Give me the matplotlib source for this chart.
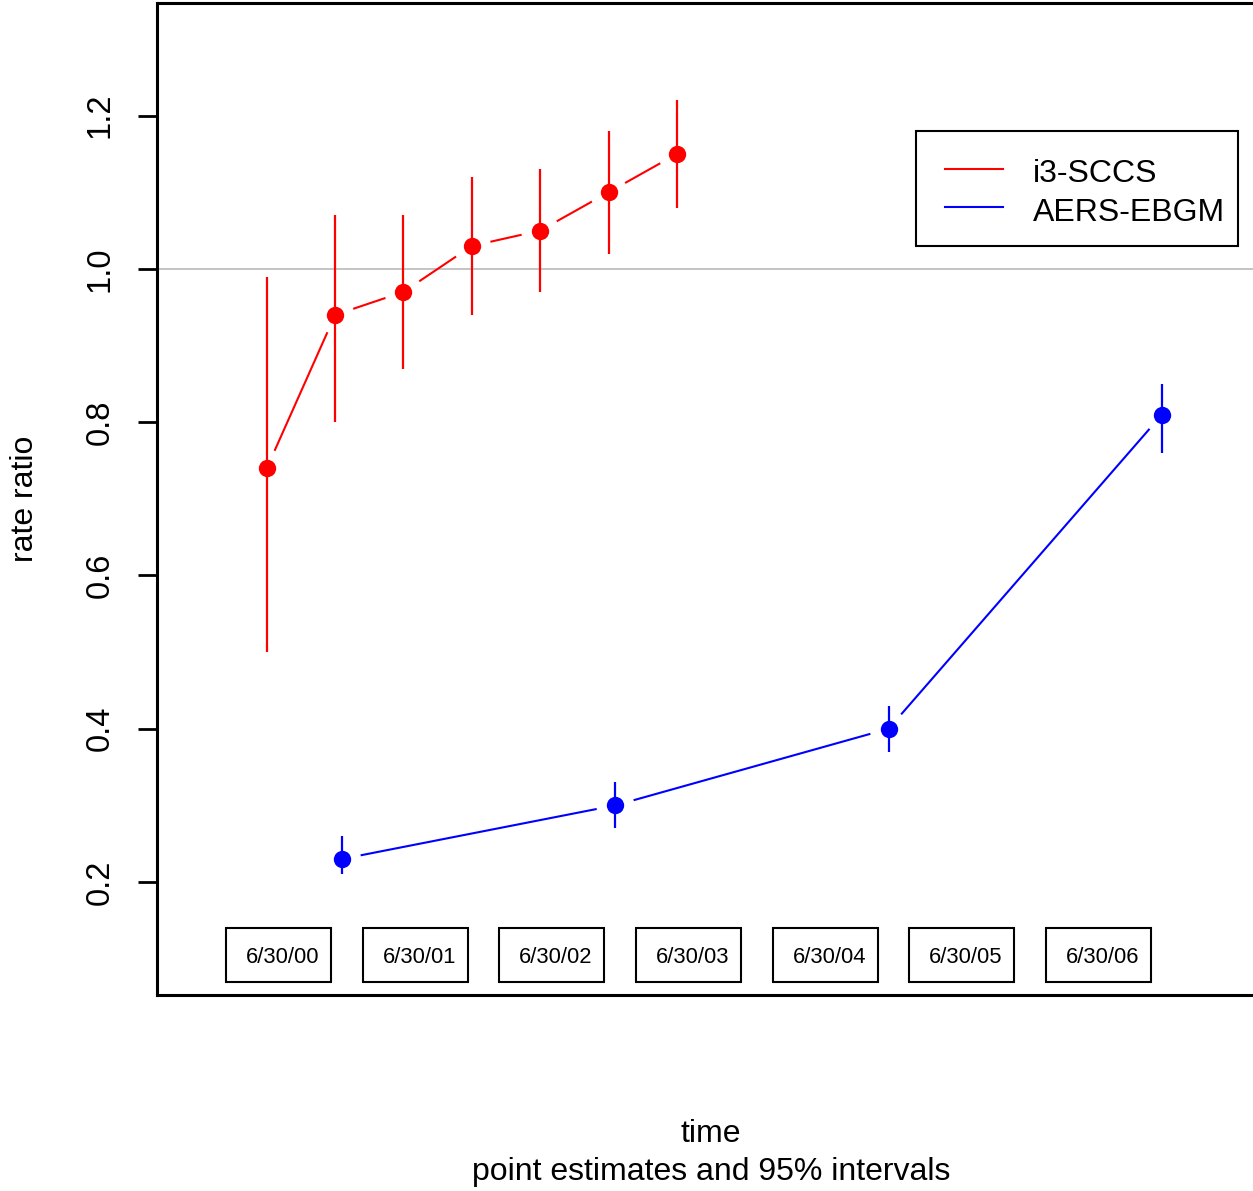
import matplotlib
matplotlib.use("Agg")
import matplotlib.pyplot as plt
from matplotlib.lines import Line2D
from matplotlib.patches import Rectangle
import numpy as np

plt.rcParams['font.family'] = ['Liberation Sans', 'DejaVu Sans']

# time in years since 1/1/2000
sccs_x = [0.45, 0.95, 1.45, 1.95, 2.45, 2.95, 3.45]
sccs_rr = [0.74, 0.94, 0.97, 1.03, 1.05, 1.10, 1.15]
sccs_lo = [0.50, 0.80, 0.87, 0.94, 0.97, 1.02, 1.08]
sccs_hi = [0.99, 1.07, 1.07, 1.12, 1.13, 1.18, 1.22]

ebgm_x = [1.0, 3.0, 5.0, 7.0]
ebgm_rr = [0.23, 0.30, 0.40, 0.81]
ebgm_lo = [0.21, 0.27, 0.37, 0.76]
ebgm_hi = [0.26, 0.33, 0.43, 0.85]

date_x = [0.5, 1.5, 2.5, 3.5, 4.5, 5.5, 6.5]
date_labels = ['6/30/00', '6/30/01', '6/30/02', '6/30/03', '6/30/04', '6/30/05', '6/30/06']
yticks = [0.2, 0.4, 0.6, 0.8, 1.0, 1.2]

W, H = 1253, 1191
fig = plt.figure(figsize=(W / 100, H / 100), dpi=100)
ax = fig.add_axes([157 / W, 1 - 995 / H, (1265 - 157) / W, (995 - 3) / H])
ax.set_xlim(-0.3536, 7.7535)
ax.set_ylim(0.0525, 1.347)

for s in ax.spines.values():
    s.set_linewidth(2.2)
ax.spines['right'].set_visible(False)

ax.set_xticks([])
ax.set_yticks(yticks)
ax.set_yticklabels([f'{v:.1f}' for v in yticks], rotation=90, va='center', fontsize=23.5)
ax.tick_params(axis='y', direction='out', length=13.7, width=2.0, pad=16)

ax.axhline(1.0, color='#c4c4c4', lw=1.4, zorder=1)


def gapped_line(xs, ys, color, gap=19):
    # type="b" style: segments stop short of each point
    pts = ax.transData.transform(np.column_stack([xs, ys]))
    inv = ax.transData.inverted()
    for p0, p1 in zip(pts[:-1], pts[1:]):
        d = p1 - p0
        L = np.hypot(*d)
        if L <= 2 * gap:
            continue
        u = d / L
        a = inv.transform(p0 + u * gap)
        b = inv.transform(p1 - u * gap)
        ax.plot([a[0], b[0]], [a[1], b[1]], color=color, lw=1.5,
                solid_capstyle='butt', zorder=2)


for xs, ys, lo, hi, col in [(sccs_x, sccs_rr, sccs_lo, sccs_hi, '#ff0000'),
                            (ebgm_x, ebgm_rr, ebgm_lo, ebgm_hi, '#0000ff')]:
    gapped_line(xs, ys, col)
    ax.vlines(xs, lo, hi, color=col, lw=1.6, zorder=2)
    ax.plot(xs, ys, 'o', color=col, ms=12.5, mec='none', zorder=3)

# date boxes along the bottom
for lx, lab in zip(date_x, date_labels):
    ax.add_patch(Rectangle((lx - 0.349, 0.0695), 0.768, 0.0705, fill=False,
                           ec='black', lw=1.5, zorder=2))
    ax.text(lx - 0.203, 0.1008, lab, ha='left', va='center', fontsize=15.8)

# legend entries without frame, box drawn separately
handles = [Line2D([], [], color='#ff0000', lw=1.5),
           Line2D([], [], color='#0000ff', lw=1.5)]
leg = ax.legend(handles, ['i3-SCCS', 'AERS-EBGM'], loc='upper left',
                bbox_to_anchor=(945 / W, 1 - 155 / H), bbox_transform=fig.transFigure,
                fontsize=23, frameon=False, borderaxespad=0, borderpad=0,
                handlelength=1.81, handleheight=1.2, handletextpad=0.94,
                labelspacing=0.14)
fig.patches.append(Rectangle((916 / W, 1 - 246 / H), 322 / W, 115 / H,
                             transform=fig.transFigure, fill=False,
                             ec='black', lw=1.5, zorder=5))

fig.text(25 / W, 1 - 499 / H, 'rate ratio', rotation=90, ha='center', va='center', fontsize=23)
fig.text(711 / W, 1 - 1134 / H, 'time', ha='center', va='center', fontsize=23)
fig.text(711 / W, 1 - 1172 / H, 'point estimates and 95% intervals', ha='center',
         va='center', fontsize=23)

fig.savefig('out.png', dpi=100, facecolor='white')
